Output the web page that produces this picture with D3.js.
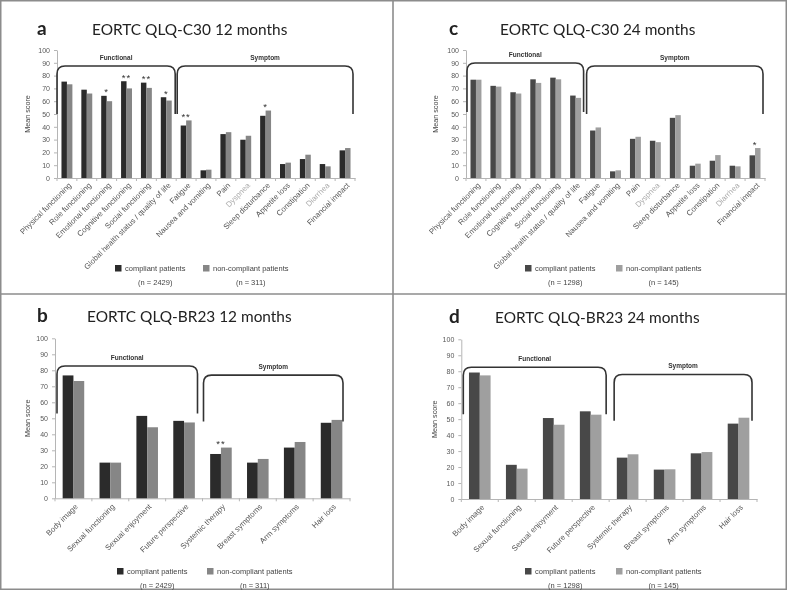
<!DOCTYPE html>
<html><head><meta charset="utf-8">
<script src="https://cdn.jsdelivr.net/npm/d3@7"></script>
<style>
html,body{margin:0;padding:0;background:#fff;}
svg{display:block;will-change:transform;}
</style></head>
<body>
<svg id="chart" width="787" height="590"></svg>
<script>
// ---------- DATA ----------
const c30Categories = ["Physical functioning","Role functioning","Emotional functioning","Cognitive functioning","Social functioning","Global health status / quality of life","Fatigue","Nausea and vomiting","Pain","Dyspnea","Sleep disturbance","Appetite loss","Constipation","Diarrhea","Financial impact"];
const c30Compliant12    = [75.3, 69.0, 64.2, 75.6, 74.5, 63.1, 41.0, 6.0, 34.3, 29.9, 48.6, 10.9, 14.8, 10.9, 21.6];
const c30NonCompliant12 = [73.2, 66.0, 60.0, 70.0, 70.4, 60.5, 45.0, 6.5, 35.8, 33.0, 52.7, 12.0, 18.2, 9.1, 23.4];
const c30Sig12          = ["", "", "*", "**", "**", "*", "**", "", "", "", "*", "", "", "", ""];
const c30Compliant24    = [76.8, 72.0, 67.0, 77.1, 78.4, 64.4, 37.1, 5.2, 30.6, 29.1, 47.0, 9.6, 13.5, 9.6, 17.7];
const c30NonCompliant24 = [76.8, 71.4, 66.0, 74.3, 77.1, 62.6, 39.5, 6.0, 32.2, 28.0, 49.1, 11.2, 17.9, 9.1, 23.4];
const c30Sig24          = ["", "", "", "", "", "", "", "", "", "", "", "", "", "", "*"];
const c30FadedLabels    = ["Dyspnea", "Diarrhea"];

const br23Categories = ["Body image","Sexual functioning","Sexual enjoyment","Future perspective","Systemic therapy","Breast symptoms","Arm symptoms","Hair loss"];
const br23Compliant12    = [76.8, 22.3, 51.5, 48.4, 27.7, 22.3, 31.7, 47.2];
const br23NonCompliant12 = [73.3, 22.3, 44.4, 47.4, 31.7, 24.6, 35.2, 49.0];
const br23Sig12          = ["", "", "", "", "**", "", "", ""];
const br23Compliant24    = [79.2, 21.4, 50.7, 54.9, 25.9, 18.4, 28.6, 47.2];
const br23NonCompliant24 = [77.4, 19.0, 46.5, 52.8, 28.0, 18.6, 29.4, 50.9];
const br23Sig24          = ["", "", "", "", "", "", "", ""];

const yTicks = [0, 10, 20, 30, 40, 50, 60, 70, 80, 90, 100];
const seriesNames = ["compliant patients", "non-compliant patients"];
const nLabels12 = ["(n = 2429)", "(n = 311)"];
const nLabels24 = ["(n = 1298)", "(n = 145)"];
const groupNames = ["Functional", "Symptom"];
const yAxisTitle = "Mean score";

// ---------- LAYOUT ----------
const svg = d3.select("#chart");
const FONT = "'Liberation Sans', Arial, sans-serif";
const TFONT = "Lato, 'Liberation Sans', sans-serif";

svg.append("rect").attr("x",0).attr("y",0).attr("width",787).attr("height",590).attr("fill","#fff");
svg.append("rect").attr("x",0.75).attr("y",0.75).attr("width",785.5).attr("height",588.5)
  .attr("fill","none").attr("stroke","#8c8c8c").attr("stroke-width",1.5);
svg.append("line").attr("x1",393).attr("x2",393).attr("y1",0).attr("y2",590).attr("stroke","#8c8c8c").attr("stroke-width",1.6);
svg.append("line").attr("x1",0).attr("x2",787).attr("y1",294).attr("y2",294).attr("stroke","#8c8c8c").attr("stroke-width",1.6);

function bracketPath(x0, x1, yTop, yEnd){
  const r = 8;
  return `M${x0},${yEnd} L${x0},${yTop+r} Q${x0},${yTop} ${x0+r},${yTop} L${x1-r},${yTop} Q${x1},${yTop} ${x1},${yTop+r} L${x1},${yEnd}`;
}

function drawPanel(cfg){
  const g = svg.append("g").attr("transform",`translate(${cfg.ox},${cfg.oy})`);
  const x = d3.scaleBand().domain(cfg.categories).range([cfg.left, cfg.right]).padding(0);
  const inner = d3.scaleBand().domain([0,1]).range([0, x.bandwidth()]).paddingInner(0).paddingOuter(cfg.outerPad);
  const y = d3.scaleLinear().domain([0,100]).range([cfg.bottom, cfg.top]);

  g.append("text").attr("x",cfg.letterX).attr("y",cfg.titleY).text(cfg.letter)
    .attr("font-family",TFONT).attr("font-weight","bold").attr("font-size",19).attr("fill","#222");
  g.append("text").attr("x",cfg.titleX).attr("y",cfg.titleY).text(cfg.title)
    .attr("font-family",TFONT).attr("font-size",15.4).attr("fill","#222");

  const ya = g.append("g").attr("transform",`translate(${cfg.left},0)`)
    .call(d3.axisLeft(y).tickValues(yTicks).tickSize(3).tickPadding(4).tickSizeOuter(0));
  ya.select(".domain").attr("stroke","#b5b5b5");
  ya.selectAll(".tick line").attr("stroke","#b5b5b5");
  ya.selectAll("text").attr("font-family",FONT).attr("font-size",7).attr("fill","#595959");

  g.append("text").attr("transform",`translate(${cfg.yTitleX},${(cfg.top+cfg.bottom)/2}) rotate(-90)`)
    .attr("text-anchor","middle").attr("font-family",FONT).attr("font-size",7.2).attr("fill","#444").text(yAxisTitle);

  const xa = g.append("g").attr("transform",`translate(0,${cfg.bottom})`)
    .call(d3.axisBottom(x).tickSize(0).tickSizeOuter(0).tickPadding(0));
  xa.select(".domain").attr("stroke","#b5b5b5");
  xa.selectAll(".tick text")
    .attr("text-anchor","end")
    .attr("font-family",FONT).attr("font-size",7.8)
    .attr("fill", d => cfg.faded.includes(d) ? "#ababab" : "#555")
    .attr("dy","0.35em").attr("y",0)
    .attr("transform",`translate(${cfg.labelDx},${cfg.labelDy}) rotate(-45)`);
  const bounds = cfg.categories.map(c => x(c)).concat([cfg.right]);
  g.append("g").selectAll("line").data(bounds).join("line")
    .attr("x1",d=>d).attr("x2",d=>d).attr("y1",cfg.bottom).attr("y2",cfg.bottom+3)
    .attr("stroke","#b5b5b5");

  const series = [cfg.s0, cfg.s1];
  const colors = cfg.colors;
  series.forEach((vals, si) => {
    g.append("g").selectAll("rect").data(vals).join("rect")
      .attr("x",(d,i)=> x(cfg.categories[i]) + inner(si))
      .attr("y",d=> y(d))
      .attr("width", inner.bandwidth())
      .attr("height", d => y(0) - y(d))
      .attr("fill", colors[si]);
  });

  g.append("g").selectAll("text").data(cfg.sig).join("text")
    .attr("x",(d,i)=> x(cfg.categories[i]) + x.bandwidth()/2)
    .attr("y",(d,i)=> y(Math.max(cfg.s0[i], cfg.s1[i])) - 0.5)
    .attr("text-anchor","middle").attr("font-family",FONT).attr("font-size",9.5).attr("fill","#333")
    .attr("letter-spacing",1)
    .text(d=>d);

  cfg.brackets.forEach((b, bi) => {
    const x0 = x(cfg.categories[b.from]) + b.inset0;
    const x1 = (b.to+1 < cfg.categories.length ? x(cfg.categories[b.to+1]) : cfg.right) + b.inset1;
    g.append("path").attr("d", bracketPath(x0, x1, y(b.top), y(b.end)))
      .attr("fill","none").attr("stroke","#333").attr("stroke-width",1.6);
    g.append("text").attr("x",(x0+x1)/2).attr("y", y(b.top) - b.labelGap)
      .attr("text-anchor","middle").attr("font-family",FONT).attr("font-weight","bold")
      .attr("font-size",6.5).attr("fill","#333").text(groupNames[bi]);
  });

  const lg = g.append("g");
  seriesNames.forEach((name, si) => {
    const lx = cfg.legendX[si];
    lg.append("rect").attr("x",lx).attr("y",cfg.legendY-3).attr("width",6.5).attr("height",6.5).attr("fill",colors[si]);
    const t = lg.append("text").attr("x",lx+10).attr("y",cfg.legendY).attr("dy","0.35em")
      .attr("font-family",FONT).attr("font-size",7.5).attr("fill","#444").text(name);
    const w = t.node().getComputedTextLength();
    lg.append("text").attr("x",lx+10+w/2).attr("y",cfg.legendY+14).attr("dy","0.35em").attr("text-anchor","middle")
      .attr("font-family",FONT).attr("font-size",7.5).attr("fill","#444").text(cfg.nLabels[si]);
  });
}

const darkA = ["#2b2b2b", "#868686"];
const darkC = ["#484848", "#9f9f9f"];

drawPanel({ox:0, oy:0, letter:"a", title:"EORTC QLQ-C30 12 months", letterX:37, titleX:92, titleY:35,
  left:57, right:355, top:50, bottom:178, yTitleX:30, outerPad:0.82, labelDx:3, labelDy:6,
  categories:c30Categories, s0:c30Compliant12, s1:c30NonCompliant12, sig:c30Sig12, faded:c30FadedLabels, colors:darkA,
  brackets:[{from:0,to:5,top:87.5,end:50,inset0:0,inset1:-1,labelGap:6},{from:6,to:14,top:87.5,end:50,inset0:1,inset1:-2,labelGap:6}],
  legendX:[115,203], legendY:268, nLabels:nLabels12});

drawPanel({ox:393, oy:0, letter:"c", title:"EORTC QLQ-C30 24 months", letterX:56, titleX:107, titleY:35,
  left:73, right:372, top:50, bottom:178, yTitleX:45, outerPad:0.82, labelDx:3, labelDy:6,
  categories:c30Categories, s0:c30Compliant24, s1:c30NonCompliant24, sig:c30Sig24, faded:c30FadedLabels, colors:darkC,
  brackets:[{from:0,to:5,top:89.8,end:51.5,inset0:1,inset1:-2,labelGap:6},{from:6,to:14,top:87.5,end:50,inset0:1,inset1:-2,labelGap:6}],
  legendX:[132,223], legendY:268, nLabels:nLabels24});

drawPanel({ox:0, oy:294, letter:"b", title:"EORTC QLQ-BR23 12 months", letterX:37, titleX:87, titleY:28,
  left:55, right:350, top:44.3, bottom:204.3, yTitleX:30, outerPad:0.71, labelDx:3, labelDy:7,
  categories:br23Categories, s0:br23Compliant12, s1:br23NonCompliant12, sig:br23Sig12, faded:[], colors:darkA,
  brackets:[{from:0,to:3,top:82.7,end:53,inset0:2,inset1:-5,labelGap:6},{from:4,to:7,top:77,end:48,inset0:1,inset1:-7,labelGap:6}],
  legendX:[117,207], legendY:277, nLabels:nLabels12});

drawPanel({ox:393, oy:294, letter:"d", title:"EORTC QLQ-BR23 24 months", letterX:56, titleX:102, titleY:29,
  left:68.3, right:364, top:45.3, bottom:205, yTitleX:44, outerPad:0.71, labelDx:3, labelDy:7,
  categories:br23Categories, s0:br23Compliant24, s1:br23NonCompliant24, sig:br23Sig24, faded:[], colors:darkC,
  brackets:[{from:0,to:3,top:82.5,end:53,inset0:2,inset1:-3,labelGap:6},{from:4,to:7,top:78,end:49,inset0:5,inset1:-5,labelGap:6}],
  legendX:[132,223], legendY:277, nLabels:nLabels24});
</script>
</body></html>
